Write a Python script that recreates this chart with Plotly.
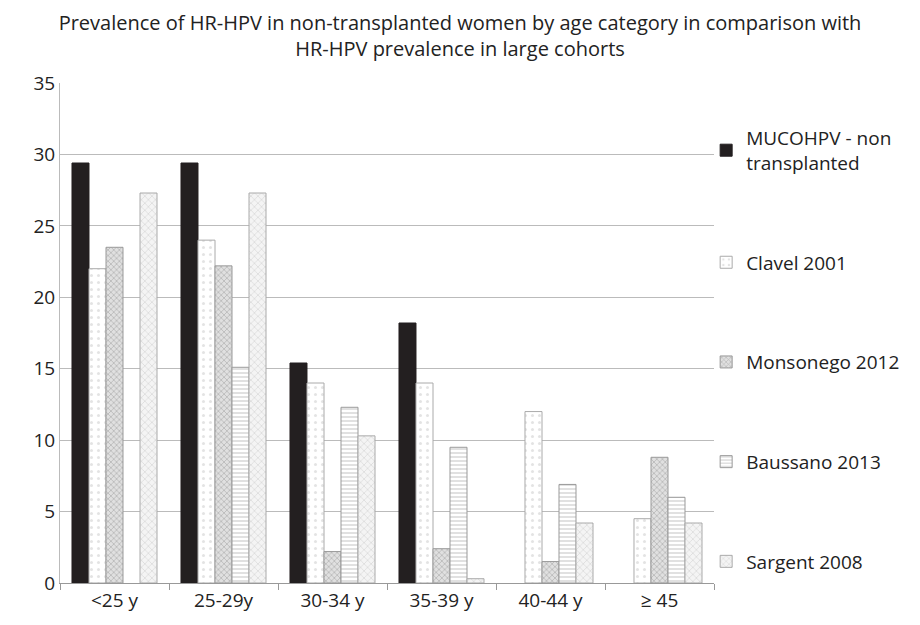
import plotly.graph_objects as go

categories = ["<25 y", "25-29y", "30-34 y", "35-39 y", "40-44 y", "≥ 45"]
mucohpv = [29.4, 29.4, 15.4, 18.2, None, None]
clavel = [22.0, 24.0, 14.0, 14.0, 12.0, 4.5]
monsonego = [23.5, 22.2, 2.2, 2.4, 1.5, 8.8]
baussano = [None, 15.1, 12.3, 9.5, 6.9, 6.0]
sargent = [27.3, 27.3, 10.3, 0.3, 4.2, 4.2]

series_names = ["MUCOHPV - non<br>transplanted", "Clavel 2001", "Monsonego 2012",
                "Baussano 2013", "Sargent 2008"]
series_values = [mucohpv, clavel, monsonego, baussano, sargent]

styles = [
    dict(color="#231f20", line=dict(color="#231f20", width=1)),
    dict(color="white", line=dict(color="#aaaaaa", width=1),
         pattern=dict(shape=".", fgcolor="#c8c8c8", bgcolor="white", size=7, solidity=0.15)),
    dict(color="#cfcfcf", line=dict(color="#999999", width=1),
         pattern=dict(shape="x", fgcolor="#8a8a8a", bgcolor="#e0e0e0", size=4, solidity=0.35)),
    dict(color="white", line=dict(color="#999999", width=1),
         pattern=dict(shape="-", fgcolor="#9a9a9a", bgcolor="white", size=4, solidity=0.3)),
    dict(color="#eeeeee", line=dict(color="#aaaaaa", width=1),
         pattern=dict(shape="x", fgcolor="#c4c4c4", bgcolor="#f4f4f4", size=5, solidity=0.3)),
]

fig = go.Figure()
for name, vals, st in zip(series_names, series_values, styles):
    fig.add_trace(go.Bar(x=categories, y=vals, name=name, marker=st, legendgroup=name))

font_family = "Open Sans, Noto Sans, sans-serif"
W, H = 912, 617
fig.update_layout(
    width=W, height=H,
    paper_bgcolor="white", plot_bgcolor="white",
    margin=dict(l=52, r=206, t=75, b=42),
    barmode="group", bargap=0.22, bargroupgap=0,
    font=dict(family=font_family, size=19, color="#222222"),
    title=dict(text="Prevalence of HR-HPV in non-transplanted women by age category in comparison with<br>HR-HPV prevalence in large cohorts",
               x=452 / W, xanchor="center", xref="container", y=1 - 22 / H, yanchor="middle",
               font=dict(family=font_family, size=20, color="#222222")),
    legend=dict(x=0.988, xanchor="left", y=0.928, yanchor="top",
                font=dict(family=font_family, size=19, color="#222222"),
                tracegroupgap=72, bgcolor="rgba(0,0,0,0)", traceorder="grouped",
                itemwidth=30),
    xaxis=dict(showline=True, linecolor="#999999", linewidth=1, ticks="outside",
               tickson="boundaries", ticklen=6, tickcolor="#999999",
               tickfont=dict(size=19), showgrid=False),
    yaxis=dict(range=[0, 35], dtick=5, showline=True, linecolor="#bbbbbb", linewidth=1,
               gridcolor="#bbbbbb", gridwidth=1, tickfont=dict(size=19),
               ticks="", zeroline=False),
)
fig.write_html("out.html")
